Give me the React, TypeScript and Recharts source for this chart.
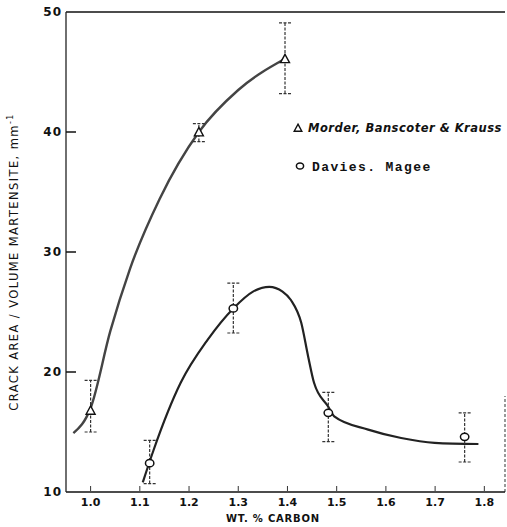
import React from 'react';
import {
  ComposedChart,
  Line,
  Scatter,
  XAxis,
  YAxis,
  ErrorBar,
  ReferenceLine,
  Customized,
} from 'recharts';

// ---- tick labels ----
const xTicks = [1.0, 1.1, 1.2, 1.3, 1.4, 1.5, 1.6, 1.7, 1.8];
const yTicks = [10, 20, 30, 40, 50];
const xDomain = [0.95, 1.842];
const yDomain = [10, 50];

// ---- Morder, Banscoter & Krauss (triangles) ----
const morderX = [1.0, 1.22, 1.395];
const morderY = [16.8, 40.0, 46.1];
const morderErrLow = [1.8, 0.8, 2.9];
const morderErrHigh = [2.5, 0.7, 3.0];

// ---- Davies, Magee (circles) ----
const daviesX = [1.12, 1.29, 1.483, 1.76];
const daviesY = [12.4, 25.3, 16.6, 14.6];
const daviesErrLow = [1.7, 2.05, 2.4, 2.1];
const daviesErrHigh = [1.9, 2.1, 1.7, 2.0];

// ---- hand-drawn fitted curves ----
const upperCurveX = [0.965, 1.0, 1.04, 1.08, 1.14, 1.22, 1.3, 1.395];
const upperCurveY = [14.9, 17.0, 23.4, 28.6, 34.4, 40.0, 43.5, 46.1];

const lowerCurveX = [1.106, 1.128, 1.183, 1.238, 1.29, 1.33, 1.363, 1.39, 1.407, 1.428, 1.442, 1.454, 1.483, 1.495, 1.564, 1.631, 1.699, 1.788];
const lowerCurveY = [10.8, 13.5, 19.1, 22.7, 25.3, 26.7, 27.1, 26.7, 26.0, 24.1, 21.3, 19.1, 17.1, 16.3, 15.2, 14.5, 14.1, 14.0];

const legendLabels = ['Morder, Banscoter & Krauss', 'Davies. Magee'];

const morderData = morderX.map((x, i) => ({ x, y: morderY[i], err: [morderErrLow[i], morderErrHigh[i]] }));
const daviesData = daviesX.map((x, i) => ({ x, y: daviesY[i], err: [daviesErrLow[i], daviesErrHigh[i]] }));
const upperData = upperCurveX.map((x, i) => ({ x, y: upperCurveY[i] }));
const lowerData = lowerCurveX.map((x, i) => ({ x, y: lowerCurveY[i] }));

const trianglePath = (cx: number, cy: number, s: number) =>
  `M${cx},${cy - s} L${cx + s},${cy + s * 0.85} L${cx - s},${cy + s * 0.85} Z`;

const Triangle = (props: any) => {
  const { cx, cy } = props;
  if (cx == null || cy == null) return null;
  return <path d={trianglePath(cx, cy, 4.5)} fill="#fff" stroke="#111" strokeWidth={1.4} />;
};

const Oval = (props: any) => {
  const { cx, cy } = props;
  if (cx == null || cy == null) return null;
  return <ellipse cx={cx} cy={cy} rx={4.2} ry={3.6} fill="#fff" stroke="#111" strokeWidth={1.5} />;
};

const YTick = (props: any) => {
  const { x, y, payload } = props;
  const v = payload.value;
  return (
    <g>
      {v !== 10 && v !== 50 && <line x1={x} x2={x + 10} y1={y} y2={y} stroke="#111" strokeWidth={1.5} />}
      <text
        x={x - 4}
        y={y}
        dy={4}
        textAnchor="end"
        fontFamily="DejaVu Sans"
        fontWeight="bold"
        fontSize={12}
        letterSpacing={1}
        fill="#111"
      >
        {v}
      </text>
    </g>
  );
};

const XTick = (props: any) => {
  const { x, y, payload } = props;
  const v = payload.value;
  return (
    <g>
      <line x1={x} x2={x} y1={y - 6} y2={y - 1} stroke="#333" strokeWidth={1} />
      <text
        x={x}
        y={y}
        dy={14}
        textAnchor="middle"
        fontFamily="DejaVu Sans"
        fontWeight="bold"
        fontSize={11}
        fill="#111"
      >
        {Number(v).toFixed(1)}
      </text>
    </g>
  );
};

const Annotations = () => (
  <g>
    <text
      transform="translate(18,262) rotate(-90)"
      textAnchor="middle"
      fontFamily="DejaVu Sans"
      fontSize={11.5}
      letterSpacing={1.4}
      fill="#111"
    >
      CRACK AREA / VOLUME MARTENSITE, mm
      <tspan dy={-5} fontSize={8}>-1</tspan>
    </text>
    <text
      x={226}
      y={522}
      textAnchor="start"
      fontFamily="DejaVu Sans"
      fontWeight="bold"
      fontSize={10}
      letterSpacing={0.8}
      fill="#111"
    >
      WT. % CARBON
    </text>
    {/* legend */}
    <path d={trianglePath(298, 128, 3.8)} fill="#fff" stroke="#111" strokeWidth={1.4} />
    <text
      x={308}
      y={128}
      dy={4}
      fontFamily="DejaVu Sans"
      fontStyle="italic"
      fontWeight="bold"
      fontSize={11.5}
      letterSpacing={0.5}
      fill="#111"
    >
      {legendLabels[0]}
    </text>
    <ellipse cx={300} cy={166} rx={3.6} ry={3.1} fill="#fff" stroke="#111" strokeWidth={1.5} />
    <text
      x={312}
      y={166}
      dy={4.5}
      fontFamily="Liberation Mono"
      fontWeight="bold"
      fontSize={13}
      letterSpacing={1.4}
      fill="#111"
    >
      {legendLabels[1]}
    </text>
  </g>
);

export default function App() {
  return (
    <div style={{ position: 'absolute', left: 0, top: 0, width: 507, height: 527, background: '#fff' }}>
      <ComposedChart width={507} height={527} margin={{ top: 12, right: 2, bottom: 0, left: 0 }}>
        <XAxis
          type="number"
          dataKey="x"
          domain={xDomain}
          ticks={xTicks}
          allowDataOverflow
          height={35}
          tickSize={0}
          tickMargin={0}
          tickLine={false}
          tick={<XTick />}
          axisLine={{ stroke: '#111', strokeWidth: 1.6 }}
        />
        <YAxis
          type="number"
          dataKey="y"
          domain={yDomain}
          ticks={yTicks}
          allowDataOverflow
          width={66}
          tickSize={0}
          tickMargin={0}
          tickLine={false}
          tick={<YTick />}
          axisLine={{ stroke: '#222', strokeWidth: 1.3 }}
        />
        <ReferenceLine y={50} stroke="#111" strokeWidth={1.5} />
        <ReferenceLine
          segment={[{ x: 1.842, y: 10 }, { x: 1.842, y: 18 }]}
          stroke="#555"
          strokeDasharray="3 2"
          strokeWidth={1.2}
        />
        <Line
          data={upperData}
          dataKey="y"
          type="monotone"
          stroke="#444"
          strokeWidth={2.4}
          dot={false}
          isAnimationActive={false}
          legendType="none"
        />
        <Line
          data={lowerData}
          dataKey="y"
          type="monotone"
          stroke="#222"
          strokeWidth={2.2}
          dot={false}
          isAnimationActive={false}
          legendType="none"
        />
        <Scatter data={morderData} dataKey="y" shape={<Triangle />} isAnimationActive={false} name={legendLabels[0]}>
          <ErrorBar dataKey="err" direction="y" width={6} stroke="#333" strokeWidth={1.2} strokeDasharray="3 1.5" />
        </Scatter>
        <Scatter data={daviesData} dataKey="y" shape={<Oval />} isAnimationActive={false} name={legendLabels[1]}>
          <ErrorBar dataKey="err" direction="y" width={6} stroke="#333" strokeWidth={1.2} strokeDasharray="3 1.5" />
        </Scatter>
        <Customized component={Annotations} />
      </ComposedChart>
    </div>
  );
}
